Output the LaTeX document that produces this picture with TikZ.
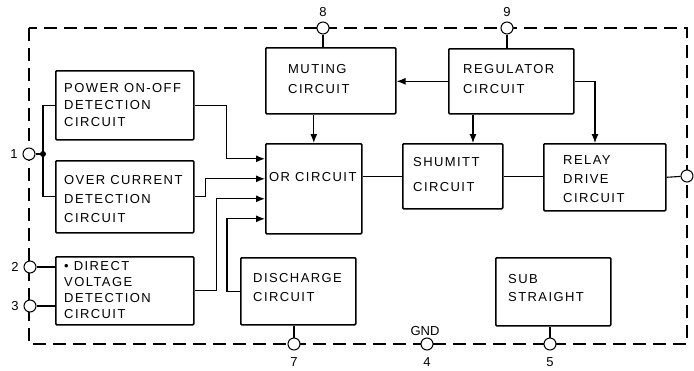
\documentclass[tikz,border=0pt]{standalone}
\usepackage{fontspec}
\newfontfamily\lab[LetterSpace=11]{Liberation Sans}
\newfontfamily\plab{Liberation Sans}
\usetikzlibrary{arrows.meta}
\tikzset{
  box/.style={draw, line width=1.6pt, rectangle, rounded corners=1pt, anchor=north west, inner sep=0pt},
  txt/.style={anchor=west, align=left, inner sep=0pt, font=\lab\fontsize{13}{18}\selectfont},
  term/.style={draw, circle, fill=white, line width=1pt, minimum size=12pt, inner sep=0pt},
  plbl/.style={font=\plab\fontsize{13}{13}\selectfont, inner sep=0pt},
  wire/.style={line width=1.1pt},
  arr/.style={wire, -{Latex[length=9pt,width=7pt]}},
  border/.style={line width=1.6pt, dash pattern=on 13pt off 7pt},
}
\begin{document}
\begin{tikzpicture}[x=1pt, y=-1pt]
\useasboundingbox (0,0) rectangle (694,370);
% border
\draw[border] (29,28) rectangle (687,344);
% boxes
\node[box, minimum width=138pt, minimum height=69pt] (pow) at (55,70) {};
\node[box, minimum width=138pt, minimum height=72pt] (ovc) at (55,160) {};
\node[box, minimum width=138pt, minimum height=68pt] (dir) at (55,256) {};
\node[box, minimum width=130pt, minimum height=66pt] (mut) at (265,47) {};
\node[box, minimum width=125pt, minimum height=65pt] (reg) at (448,48) {};
\node[box, minimum width=96pt, minimum height=90pt] (orc) at (265,143) {};
\node[box, minimum width=100pt, minimum height=65pt] (shu) at (402,143) {};
\node[box, minimum width=122pt, minimum height=67pt] (rel) at (543,143) {};
\node[box, minimum width=115pt, minimum height=67pt] (dis) at (240,257) {};
\node[box, minimum width=115pt, minimum height=68pt] (sub) at (495,257) {};
% texts
\node[txt, font=\lab\fontsize{13}{17}\selectfont] (powt) at (64,105) {POWER ON-OFF\\DETECTION\\CIRCUIT};
\node[txt, font=\lab\fontsize{13}{19}\selectfont] (ovct) at (64,199) {OVER CURRENT\\DETECTION\\CIRCUIT};
\node[txt, font=\lab\fontsize{13}{15.7}\selectfont] (dirt) at (64,290) {• DIRECT\\VOLTAGE\\DETECTION\\CIRCUIT};
\node[txt, font=\lab\fontsize{13}{20}\selectfont] (mutt) at (288,79) {MUTING\\CIRCUIT};
\node[txt, font=\lab\fontsize{13}{20}\selectfont] (regt) at (463,79) {REGULATOR\\CIRCUIT};
\node[txt] (orct) at (269,177) {OR CIRCUIT};
\node[txt, font=\lab\fontsize{13}{25}\selectfont] (shut) at (413,175) {SHUMITT\\CIRCUIT};
\node[txt, font=\lab\fontsize{13}{19}\selectfont] (relt) at (563,179) {RELAY\\DRIVE\\CIRCUIT};
\node[txt, font=\lab\fontsize{13}{19}\selectfont] (dist) at (253,288) {DISCHARGE\\CIRCUIT};
\node[txt, font=\lab\fontsize{13}{18}\selectfont] (subt) at (508,288) {SUB\\STRAIGHT};
% helper coordinates
\coordinate (xa) at (473,0);
\coordinate (xb) at (595,0);
\coordinate (dot) at (43,154);
% connectors to OR
\draw[arr] (pow.east) -- ++(32,0) |- ([yshift=30pt]orc.west);
\draw[arr] (ovc.east) -- ++(11,0) |- ([yshift=10pt]orc.west);
\draw[arr] (dir.east) -- ++(22,0) |- ([yshift=-10pt]orc.west);
\draw[arr] (dis.west) -- ++(-13,0) |- ([yshift=-30pt]orc.west);
\draw[arr] (mut.south -| orc.north) -- (orc.north);
\draw[arr] (reg.west) -- (reg.west -| mut.east);
\draw[arr] (reg.south -| xa) -- (shu.north -| xa);
\draw[arr] (reg.east) -| (rel.north -| xb);
\draw[wire] (shu.west -| orc.east) -- (shu.west);
\draw[wire] (shu.east) -- (shu.east -| rel.west);
% pin 1 bus
\draw[wire] (pow.west) -- ++(-12,0) |- (ovc.west);
% terminals
\node[term] (p1) at (29,154) {};
\node[term] (p2) at (30,267) {};
\node[term] (p3) at (30,306) {};
\node[term] (p8) at (323,28) {};
\node[term] (p9) at (507,28) {};
\node[term] (p7) at (294,344) {};
\node[term] (p4) at (427,344) {};
\node[term] (p5) at (550,344) {};
\node[term] (pr) at (687,176) {};
\fill (dot) circle (3pt);
\draw[wire] (p1) -- (dot);
\draw[wire] (p2) -- (p2 -| dir.west);
\draw[wire] (p3) -- (p3 -| dir.west);
\draw[wire] (p8) -- (p8 |- mut.north);
\draw[wire] (p9) -- (p9 |- reg.north);
\draw[wire] (p7) -- (p7 |- dis.south);
\draw[wire] (p5) -- (p5 |- sub.south);
\draw[wire] (rel.east) -- (pr);
% pin labels
\node[plbl] (l1) at (14,154) {1};
\node[plbl] (l2) at (15,267) {2};
\node[plbl] (l3) at (15,306) {3};
\node[plbl] (l8) at (323,12) {8};
\node[plbl] (l9) at (507,12) {9};
\node[plbl] (l7) at (294,362) {7};
\node[plbl] (l4) at (427,362) {4};
\node[plbl] (l5) at (550,362) {5};
\node[plbl] (lg) at (425,331) {GND};
\end{tikzpicture}
\end{document}
